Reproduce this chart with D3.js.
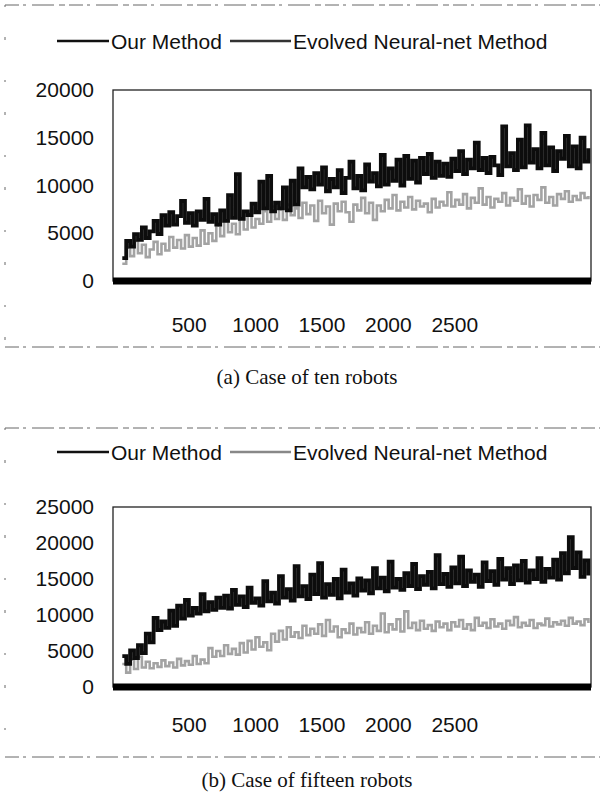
<!DOCTYPE html>
<html>
<head>
<meta charset="utf-8">
<script src="https://cdn.jsdelivr.net/npm/d3@7"></script>
<style>
  body { margin: 0; background: #fff; }
  svg { display: block; }
  .tick text { font-family: "Liberation Sans", Arial, sans-serif; font-size: 21px; fill: #111; }
</style>
</head>
<body>
<div id="chart"></div>
<script>
// generations on the x axis (120 samples across the run)
var generations = d3.range(0, 3530, 29.5);

var xTicks = [500, 1000, 1500, 2000, 2500];
var yTicksA = [0, 5000, 10000, 15000, 20000];
var yTicksB = [0, 5000, 10000, 15000, 20000, 25000];

var seriesNames = ["Our Method", "Evolved Neural-net Method"];

// (a) ten robots
var ourTen = [2400,4200,3600,4900,4300,5600,4500,5200,6300,4900,
  6900,5800,7200,5900,6800,8400,6100,7100,5800,7300,
  6400,8600,6200,7000,5900,7400,6300,9000,6600,11200,
  6500,7300,6900,8100,7200,10400,7600,11000,7300,8200,
  7600,9800,7400,10500,8000,11800,9800,10900,9600,11300,
  10100,11900,9400,10700,9800,11600,9200,10800,12500,9700,
  11000,9500,12200,10400,11300,9900,13200,10100,11800,10500,
  12700,10000,13100,10700,12600,10300,12900,11200,13300,10800,
  12500,11000,12300,10900,12800,11500,13600,11200,12700,11800,
  14500,11600,12900,11300,13000,12100,11100,16200,12000,13400,
  11600,14800,11900,16300,12400,13800,11800,15500,12100,14000,
  11500,13600,12800,15200,12000,14100,11800,15000,12500,13900];

var neuralTen = [1800,3500,2600,4200,2900,3800,2500,3300,4100,2800,
  3900,3200,4600,3500,4300,3400,4800,3600,4500,3700,
  5300,3900,5000,4200,5800,4700,6300,5100,6000,4900,
  6600,5400,7000,5600,6500,6000,7300,6200,7800,6500,
  7500,6400,8000,6900,7600,6600,8200,7000,7900,6300,
  8400,7100,7800,5900,8100,7300,8300,7200,6200,8000,
  7400,8700,7100,8200,6400,7900,7300,8500,7600,9000,
  7400,8300,7700,8800,7500,8400,7800,8100,7200,8600,
  7700,8300,7900,9300,7800,8500,8000,9100,7600,8700,
  8200,9700,8000,8800,7700,8600,8300,9200,7900,8700,
  8400,9600,8100,8900,7800,9000,8500,9800,8200,8800,
  7900,9100,8600,9400,8300,8900,8500,9200,8700,8900];

// (b) fifteen robots
var ourFifteen = [4300,3200,5100,4000,5800,4700,7400,6200,9600,7900,
  9100,8200,10600,8500,11300,9500,12100,9900,11000,10200,
  12900,10500,11800,10700,12400,11000,12700,10900,13500,11400,
  12600,11100,13800,11700,12300,11300,14700,11900,13100,11600,
  15400,12400,13600,12000,16800,12600,14000,12200,15600,12900,
  17200,12400,14300,12800,15000,12300,16300,13100,14400,12700,
  15100,13400,14800,13000,16500,13700,15200,13300,17400,13800,
  15000,13500,15800,14000,17100,13600,15400,14200,16000,13700,
  18300,14300,15700,13900,16600,14400,18100,14000,16200,14600,
  15600,13900,17300,14700,16100,14200,17800,14900,16500,14300,
  16900,14800,17500,14500,16200,15000,17900,14600,16400,15200,
  17700,14900,18600,15800,20800,16500,18700,15300,17600,15500];

var neuralFifteen = [3200,2000,3800,2500,4200,2700,3500,2600,3300,2800,
  3700,2900,3400,2700,3900,3000,3600,3100,4300,3200,
  3800,3300,5400,4200,5000,4300,5800,4600,5300,4500,
  6100,4800,6400,5200,6900,5600,6200,5100,7400,6300,
  7800,6600,8300,7000,7600,6800,8500,7200,8100,7400,
  8700,7100,9300,7700,8400,6900,8000,7500,8800,7300,
  8200,7600,9000,7400,8500,7800,10200,7600,8700,8000,
  9400,7700,10500,8200,8900,7900,9200,8100,8600,7800,
  9100,8300,8800,7900,9000,8400,9300,8100,8700,7900,
  9600,8500,8900,8200,9400,8400,8800,8100,9200,8600,
  9700,8300,8900,8500,9300,8200,8800,8600,9500,8400,
  9000,8700,9200,8500,9600,8800,9100,8600,9400,8900];

var colors = ["#0d0d0d", "#a3a3a3"];

var svg = d3.select("#chart").append("svg")
  .attr("width", 600)
  .attr("height", 797);

function drawFrame(x0, y0, x1, y1) {
  // faint scanned dashed border round each figure
  var g = svg.append("g")
    .attr("fill", "none")
    .attr("stroke", "#666")
    .attr("stroke-width", 1)
    .attr("stroke-dasharray", "14,4,3,6,22,5,6,4");
  g.append("line").attr("x1", x0).attr("y1", y0).attr("x2", x1).attr("y2", y0);
  g.append("line").attr("x1", x0).attr("y1", y1).attr("x2", x1).attr("y2", y1);
  g.append("line").attr("x1", x0).attr("y1", y0).attr("x2", x0).attr("y2", y1)
    .attr("stroke-dasharray", "2,30,3,40");
}

function drawPanel(opt) {
  var x = d3.scaleLinear().domain([-70, 3530]).range([113, 591]);
  var y = d3.scaleLinear().domain([0, opt.yMax]).range([opt.bottom, opt.top]);

  drawFrame(5, opt.frameTop, 600, opt.frameBottom);

  // legend
  var lg = svg.append("g");
  var legendX = [[57, 109, 111], [230, 291, 293]];
  seriesNames.forEach(function(name, i) {
    lg.append("line")
      .attr("x1", legendX[i][0]).attr("x2", legendX[i][1])
      .attr("y1", opt.legendY).attr("y2", opt.legendY)
      .attr("stroke", opt.legendColors[i])
      .attr("stroke-width", 2.5);
    lg.append("text")
      .attr("x", legendX[i][2])
      .attr("y", opt.legendY + 8)
      .attr("font-family", "Liberation Sans, Arial, sans-serif")
      .attr("font-size", 21)
      .attr("fill", "#111")
      .text(name);
  });

  // plot box
  svg.append("rect")
    .attr("x", x.range()[0]).attr("y", opt.top)
    .attr("width", x.range()[1] - x.range()[0])
    .attr("height", opt.bottom - opt.top)
    .attr("fill", "none")
    .attr("stroke", "#222")
    .attr("stroke-width", 1.3);

  var line = d3.line()
    .x(function(d, i) { return x(generations[i]); })
    .y(function(d) { return y(d); })
    .curve(d3.curveStepAfter);

  // gray series first, black drawn on top
  svg.append("path")
    .datum(opt.series[1])
    .attr("fill", "none")
    .attr("stroke", colors[1])
    .attr("stroke-width", 2.6)
    .attr("d", line);
  svg.append("path")
    .datum(opt.series[0])
    .attr("fill", "none")
    .attr("stroke", colors[0])
    .attr("stroke-width", 3.8)
    .attr("d", line);

  // heavy base line at zero
  svg.append("line")
    .attr("x1", x.range()[0]).attr("x2", x.range()[1])
    .attr("y1", y(0)).attr("y2", y(0))
    .attr("stroke", "#000")
    .attr("stroke-width", 7);

  var yAxis = svg.append("g")
    .attr("transform", "translate(113,0)")
    .call(d3.axisLeft(y).tickValues(opt.yTicks).tickSize(0).tickPadding(19).tickFormat(d3.format("d")));
  yAxis.select(".domain").remove();

  var xAxis = svg.append("g")
    .attr("transform", "translate(0," + y(0) + ")")
    .call(d3.axisBottom(x).tickValues(xTicks).tickSize(0).tickPadding(opt.xPad).tickFormat(d3.format("d")));
  xAxis.select(".domain").remove();

  svg.append("text")
    .attr("x", 307)
    .attr("y", opt.captionY)
    .attr("text-anchor", "middle")
    .attr("font-family", "Liberation Serif, Times New Roman, serif")
    .attr("font-size", 21)
    .attr("fill", "#111")
    .text(opt.caption);
}

drawPanel({
  yMax: 20000, top: 90, bottom: 281, yTicks: yTicksA,
  series: [ourTen, neuralTen], xPad: 36,
  legendY: 41, legendColors: ["#111", "#333"],
  frameTop: 5, frameBottom: 347,
  captionY: 384, caption: "(a) Case of ten robots"
});

drawPanel({
  yMax: 25000, top: 507, bottom: 687, yTicks: yTicksB,
  series: [ourFifteen, neuralFifteen], xPad: 30,
  legendY: 452, legendColors: ["#111", "#888"],
  frameTop: 428, frameBottom: 757,
  captionY: 787, caption: "(b) Case of fifteen robots"
});
</script>
</body>
</html>
